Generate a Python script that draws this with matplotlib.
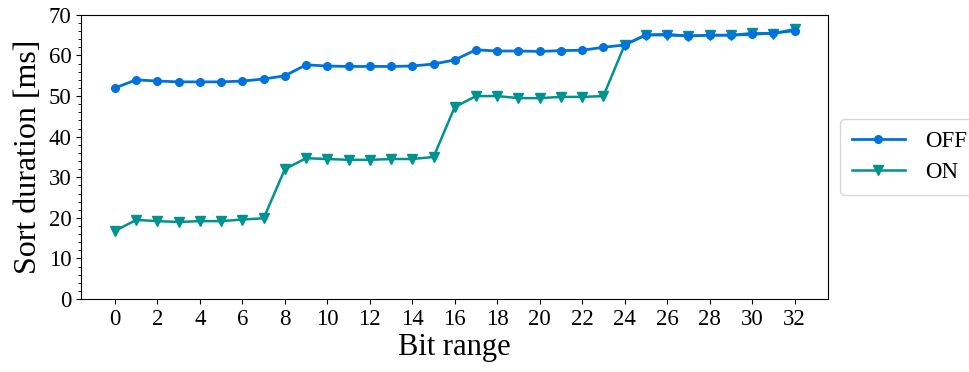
import matplotlib
matplotlib.use("Agg")
import matplotlib.pyplot as plt
from matplotlib.ticker import MultipleLocator

plt.rcParams['font.family'] = ['Liberation Serif', 'DejaVu Serif']
plt.rcParams['mathtext.fontset'] = 'stix'

bit_range = list(range(33))
sort_off = [52.0, 54.0, 53.7, 53.5, 53.5, 53.5, 53.7, 54.2, 55.0, 57.7, 57.4, 57.3,
            57.3, 57.3, 57.4, 57.9, 58.9, 61.4, 61.1, 61.1, 61.0, 61.2, 61.3, 62.0,
            62.6, 65.1, 65.2, 64.8, 65.0, 65.0, 65.2, 65.5, 66.1]
sort_on = [16.8, 19.5, 19.2, 19.0, 19.2, 19.2, 19.6, 19.9, 32.0, 34.7, 34.5, 34.3,
           34.3, 34.5, 34.5, 35.0, 47.3, 50.0, 50.0, 49.5, 49.5, 49.8, 49.8, 50.0,
           62.6, 65.0, 65.0, 64.8, 65.0, 65.0, 65.5, 65.4, 66.5]
series_labels = ["OFF", "ON"]
x_ticks = list(range(0, 33, 2))

fig = plt.figure(figsize=(9.69, 3.72), dpi=100)
ax = fig.add_axes([0.0836, 0.196, 0.7714, 0.764])

ax.plot(bit_range, sort_off, color='#0072dc', marker='o', markersize=5.5,
        linewidth=2, label=series_labels[0], zorder=3)
ax.plot(bit_range, sort_on, color='#00928f', marker='v', markersize=6.5,
        linewidth=1.8, label=series_labels[1], zorder=2)

ax.set_ylim(0, 70)
ax.set_xticks(x_ticks)
ax.yaxis.set_major_locator(MultipleLocator(10))
ax.yaxis.set_minor_locator(MultipleLocator(2))
ax.tick_params(axis='both', labelsize=16.5)
ax.set_xlabel("Bit range", fontsize=22, labelpad=2)
ax.set_ylabel("Sort duration [ms]", fontsize=23, labelpad=4)

ax.legend(loc='center left', bbox_to_anchor=(1.016, 0.5), borderaxespad=0,
          fontsize=16.5, handlelength=2.3, handletextpad=0.9,
          borderpad=0.5, labelspacing=0.45)

fig.savefig("out.png", dpi=100)
